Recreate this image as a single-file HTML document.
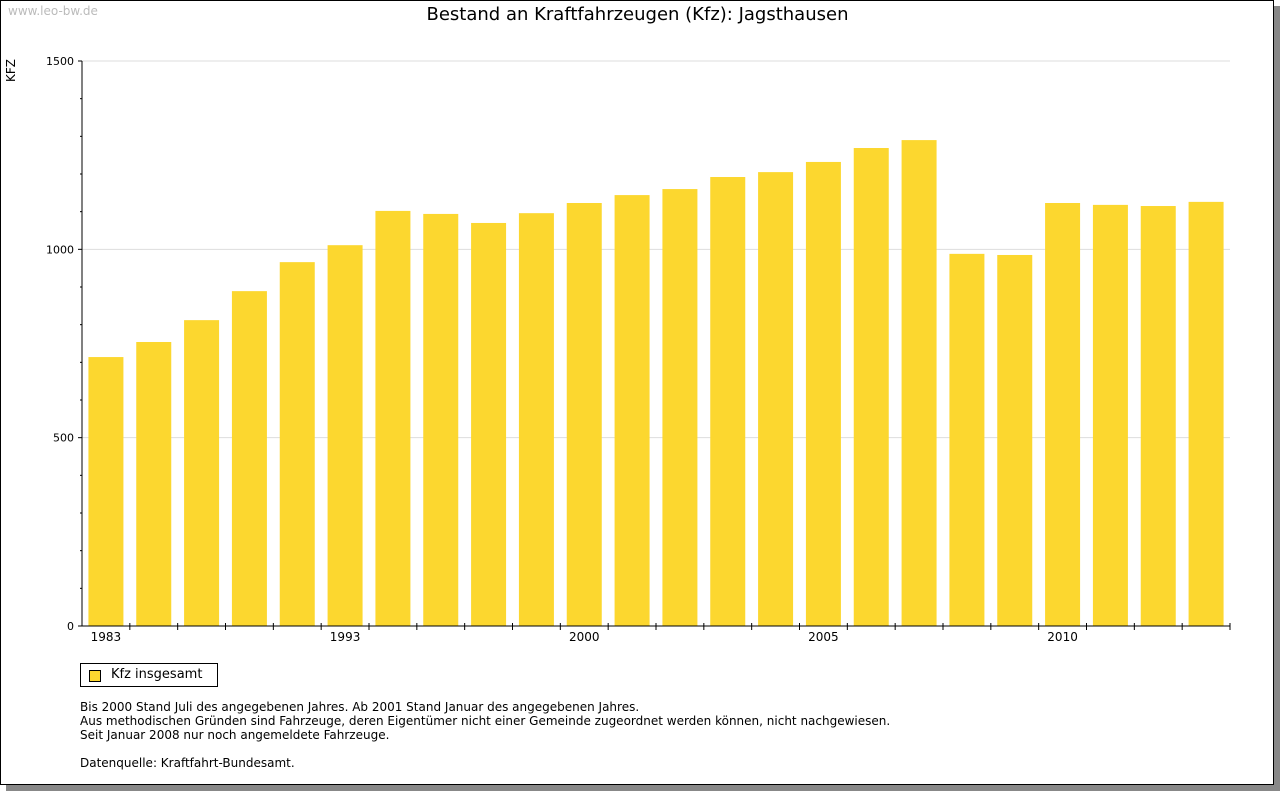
<!DOCTYPE html>
<html><head><meta charset="utf-8"><style>
body{margin:0;width:1280px;height:791px;background:#fff;overflow:hidden;font-family:"DejaVu Sans","Liberation Sans",sans-serif;}
#frame{position:absolute;left:0;top:0;width:1272px;height:783px;border:1px solid #000;background:#fff;box-shadow:6px 6px 0 #888;}
.t{position:absolute;white-space:nowrap;}
</style></head><body>
<div id="frame"></div>
<div class="t" style="left:8px;top:4px;font-size:12px;color:#bbb">www.leo-bw.de</div>
<div class="t" style="left:0;width:1275px;text-align:center;top:4px;font-size:18px;color:#000">Bestand an Kraftfahrzeugen (Kfz): Jagsthausen</div>
<div class="t" style="left:4px;top:82px;font-size:12px;transform:rotate(-90deg);transform-origin:0 0">KFZ</div>
<svg id="chart" width="1280" height="791" style="position:absolute;left:0;top:0"></svg>
<div class="t" style="left:80px;top:663px;width:136px;height:22px;border:1px solid #000;font-size:13px">
<span style="position:absolute;left:8px;top:6px;width:10px;height:10px;background:#fcd72f;border:1px solid #000"></span>
<span style="position:absolute;left:30px;top:3px">Kfz insgesamt</span></div>
<div class="t" style="left:80px;top:700px;font-size:12px;line-height:14px">Bis 2000 Stand Juli des angegebenen Jahres. Ab 2001 Stand Januar des angegebenen Jahres.<br>Aus methodischen Gründen sind Fahrzeuge, deren Eigentümer nicht einer Gemeinde zugeordnet werden können, nicht nachgewiesen.<br>Seit Januar 2008 nur noch angemeldete Fahrzeuge.<br><br>Datenquelle: Kraftfahrt-Bundesamt.</div>
<script>
const categories=["1983","","","","","1993","","","","","2000","","","","","2005","","","","","2010","","",""];
const values=[714,754,812,889,966,1011,1102,1094,1070,1096,1123,1144,1160,1192,1205,1232,1269,1290,988,985,1123,1118,1115,1126];
const yTicks=[0,500,1000,1500];
const NS="http://www.w3.org/2000/svg",svg=document.getElementById('chart');
const L=82,R=1230,T=61,B=626,YMAX=1500;
const step=(R-L)/values.length,bw=35;
const y=v=>B-v/YMAX*(B-T);
const x=i=>L+step*i+(step-bw)/2;
function mk(tag,a){const e=document.createElementNS(NS,tag);for(const k in a)e.setAttribute(k,a[k]);svg.appendChild(e);return e;}
yTicks.forEach(v=>{
 if(v>0){const g=mk('line',{x1:L,x2:R,y1:y(v),y2:y(v),stroke:'#ddd'});
 
 }
 const tk=mk('line',{x1:L-4,x2:L,y1:y(v),y2:y(v),stroke:'#000'});
 
 
 const t=mk('text',{x:L-8,y:y(v)+4,'text-anchor':'end','font-size':11,'font-family':'DejaVu Sans, sans-serif'});t.textContent=v;
 
 
});
for(let v=100;v<YMAX;v+=100){if(v%500){const m=mk('line',{x1:L-2,x2:L,y1:y(v),y2:y(v),stroke:'#000'});
 
 }}
values.forEach((v,i)=>{
 const r=mk('rect',{x:x(i),y:y(v),width:bw,height:B-y(v),fill:'#fcd72f'});
 
 
 if(i>0){const tk=mk('line',{x1:L+step*i,x2:L+step*i,y1:B-3,y2:B+4,stroke:'#000'});
 
 }
 if(categories[i]){const t=mk('text',{x:x(i)+bw/2,y:B+15,'text-anchor':'middle','font-size':12,'font-family':'DejaVu Sans, sans-serif'});t.textContent=categories[i];
 
 }
});
const ya=mk('line',{x1:L,x2:L,y1:T,y2:B,stroke:'#000'});


const xa=mk('line',{x1:L,x2:R,y1:B,y2:B,stroke:'#000'});


const xe=mk('line',{x1:R,x2:R,y1:B-3,y2:B+4,stroke:'#000'});


</script>
</body></html>
